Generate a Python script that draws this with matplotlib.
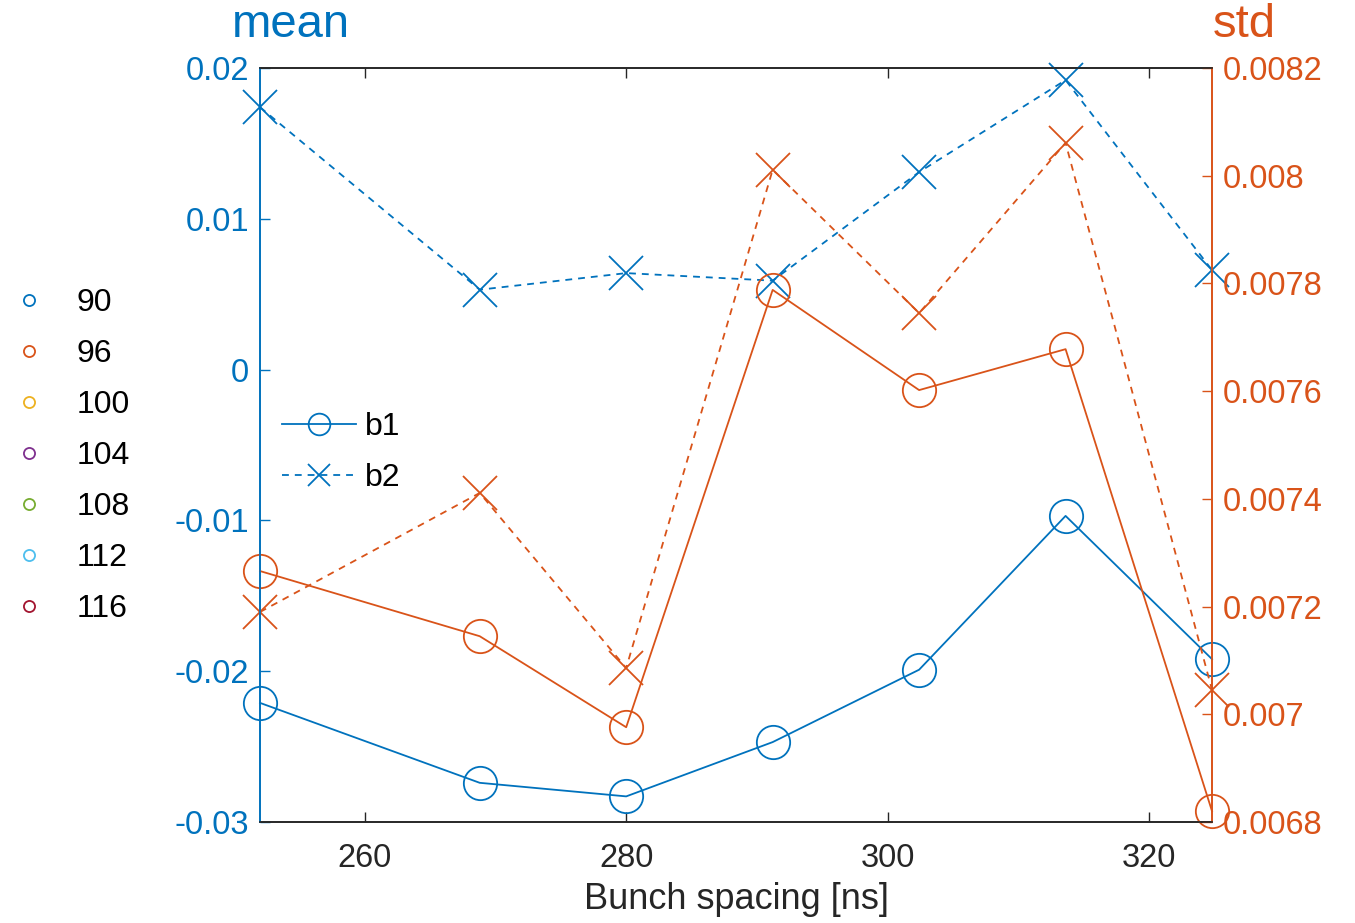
import numpy as np
import matplotlib.pyplot as plt
from matplotlib.lines import Line2D
from matplotlib.ticker import FuncFormatter

plt.rcParams['font.family'] = ['Liberation Sans', 'DejaVu Sans']
plt.rcParams['axes.unicode_minus'] = False

# MATLAB default line colours
cBlue = '#0072BD'
cOrange = '#D95319'
cGray = '#262626'
colorOrder = ['#0072BD', '#D95319', '#EDB120', '#7E2F8E',
              '#77AC30', '#4DBEEE', '#A2142F']

# Harmonic numbers and the corresponding bunch spacing [ns]
harmonics = ['90', '96', '100', '104', '108', '112', '116']
spacing = [252.0, 268.8, 280.0, 291.2, 302.4, 313.6, 324.8]

# Mean values per beam
meanB1 = [-0.0221, -0.0274, -0.0283, -0.0247, -0.0199, -0.0097, -0.0192]
meanB2 = [0.0174, 0.0053, 0.0064, 0.0059, 0.0131, 0.0192, 0.0066]

# Standard deviation per beam
stdB1 = [0.007266, 0.007145, 0.006976, 0.007788, 0.007602, 0.007678, 0.006820]
stdB2 = [0.007190, 0.007411, 0.007086, 0.008011, 0.007745, 0.008061, 0.007045]

tickSize = 23.5
legSize = 23
lw = 1.3
ms = 24
dash = (3.8, 3.3)

fig = plt.figure(figsize=(13.55, 9.23), dpi=100)
ax = fig.add_axes([0.1919, 0.1094, 0.7026, 0.8169])
ax2 = ax.twinx()

l1, = ax.plot(spacing, meanB1, '-o', color=cBlue, lw=lw, ms=ms,
              mfc='none', mew=lw, clip_on=False, zorder=3)
l2, = ax.plot(spacing, meanB2, '--x', color=cBlue, lw=lw, ms=ms,
              mew=lw, clip_on=False, zorder=3, dashes=dash)
ax2.plot(spacing, stdB1, '-o', color=cOrange, lw=lw, ms=ms,
         mfc='none', mew=lw, clip_on=False)
ax2.plot(spacing, stdB2, '--x', color=cOrange, lw=lw, ms=ms,
         mew=lw, clip_on=False, dashes=dash)

ax.set_xlim(spacing[0], spacing[-1])
ax.set_ylim(-0.03, 0.02)
ax2.set_ylim(0.0068, 0.0082)
ax.set_xticks([260, 280, 300, 320])
ax.set_yticks(np.arange(-0.03, 0.0201, 0.01))
ax2.set_yticks(np.arange(0.0068, 0.00821, 0.0002))

fmt = FuncFormatter(lambda v, p: '%g' % round(v, 6))
ax.yaxis.set_major_formatter(fmt)
ax2.yaxis.set_major_formatter(fmt)

ax.tick_params(axis='x', direction='in', length=7, width=1, colors=cGray,
               labelsize=tickSize, top=True, pad=15)
ax.tick_params(axis='y', direction='in', length=7, width=1, colors=cBlue,
               labelsize=tickSize, pad=8)
ax2.tick_params(axis='y', direction='in', length=7, width=1, colors=cOrange,
                labelsize=tickSize, pad=8)

for a in (ax, ax2):
    a.spines['top'].set_color(cGray)
    a.spines['bottom'].set_color(cGray)
    a.spines['left'].set_color(cBlue)
    a.spines['right'].set_color(cOrange)
    for s in a.spines.values():
        s.set_linewidth(1.2)

ax.set_xlabel('Bunch spacing [ns]', fontsize=26, color=cGray, labelpad=6)

fig.text(0.2148, 0.973, 'mean', fontsize=34, color=cBlue,
         ha='center', va='center')
fig.text(0.918, 0.973, 'std', fontsize=34, color=cOrange,
         ha='center', va='center')

# b1 / b2 legend inside the axes
ax.legend([l1, l2], ['b1', 'b2'], loc='upper left',
          bbox_to_anchor=(-0.007, 0.582), frameon=False, fontsize=legSize,
          handlelength=2.3, handletextpad=0.3, labelspacing=0.66,
          markerscale=0.65)

# harmonic number legend to the left of the axes
hHandles = [Line2D([], [], marker='o', ls='none', color=c, mfc='none',
                   ms=8, mew=1.3) for c in colorOrder]
fig.legend(hHandles, harmonics, loc='upper left',
           bbox_to_anchor=(0.0, 0.702), frameon=False, fontsize=legSize,
           handlelength=1.0, handletextpad=1.0, labelspacing=0.66,
           borderaxespad=0)

fig.savefig('out.png', dpi=100)
